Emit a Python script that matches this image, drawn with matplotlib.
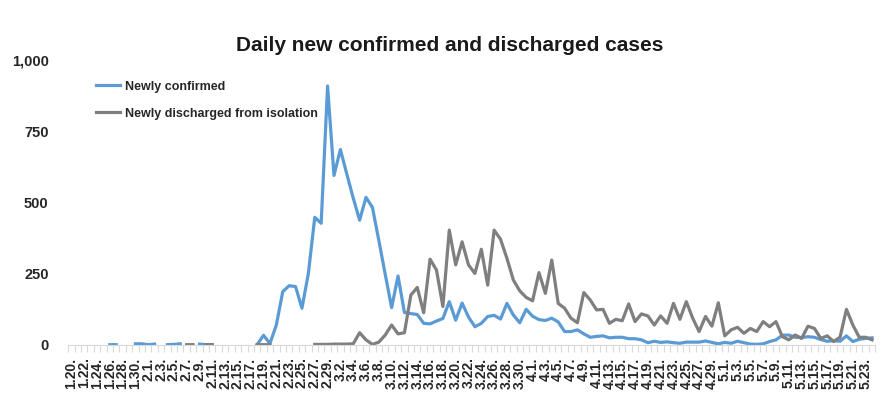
# Daily new confirmed and discharged cases (Korea, 1.20 ~ 5.24)
import numpy as np
import pandas as pd
import matplotlib
matplotlib.use("Agg")
import matplotlib.pyplot as plt

plt.rcParams['font.family'] = ['Liberation Sans', 'DejaVu Sans']

# categories: every day from 1.20 to 5.24
days = pd.date_range("2020-01-20", "2020-05-24", freq="D")
day_labels = [f"{d.month}.{d.day}." for d in days]

nan = np.nan
# newly confirmed (blank days are left as gaps, like in the original sheet)
confirmed = [
    nan, nan, nan, nan, nan, nan, 1, 1, nan, nan,          # 1.20 - 1.29
    4, 4, 1, 3, nan, 1, 2, 4, nan, nan,                    # 1.30 - 2.8
    3, 1, 1, nan, nan, nan, nan, nan, nan, 1,              # 2.9 - 2.18
    34, 5, 70, 187, 208, 205, 129, 251, 448, 427,          # 2.19 - 2.28
    909, 595, 686, 600, 516, 438, 518, 483, 367, 248,      # 2.29 - 3.9
    131, 242, 114, 110, 107, 76, 74, 84, 93, 152,          # 3.10 - 3.19
    87, 147, 98, 64, 76, 100, 104, 91, 146, 105,           # 3.20 - 3.29
    78, 125, 101, 89, 86, 94, 81, 47, 47, 53,              # 3.30 - 4.8
    39, 27, 30, 32, 25, 27, 27, 22, 22, 18,                # 4.9 - 4.18
    8, 13, 9, 11, 8, 6, 10, 10, 10, 14,                    # 4.19 - 4.28
    9, 4, 9, 6, 13, 8, 3, 2, 4, 12,                        # 4.29 - 5.8
    18, 34, 35, 27, 26, 29, 27, 19, 13, 15,                # 5.9 - 5.18
    13, 32, 12, 20, 23, 25,                                # 5.19 - 5.24
]
# newly discharged from isolation
discharged = [
    nan, nan, nan, nan, nan, nan, nan, nan, nan, nan,      # 1.20 - 1.29
    nan, nan, nan, nan, nan, nan, nan, nan, 1, 1,          # 1.30 - 2.8
    nan, 1, 1, nan, nan, nan, nan, nan, nan, 1,            # 2.9 - 2.18
    1, 1, nan, nan, nan, nan, nan, nan, 2, 2,              # 2.19 - 2.28
    2, 3, 3, 3, 4, 43, 18, 2, 10, 35,                      # 2.29 - 3.9
    70, 39, 43, 175, 202, 113, 301, 263, 135, 403,         # 3.10 - 3.19
    281, 362, 281, 251, 336, 210, 403, 371, 304, 228,      # 3.20 - 3.29
    190, 167, 155, 254, 181, 298, 146, 129, 94, 78,        # 3.30 - 4.8
    184, 158, 123, 125, 76, 90, 85, 144, 82, 109,          # 4.9 - 4.18
    102, 70, 102, 76, 146, 90, 152, 94, 47, 100,           # 4.19 - 4.28
    66, 148, 32, 53, 62, 41, 58, 47, 82, 64,               # 4.29 - 5.8
    82, 29, 18, 35, 23, 66, 58, 23, 32, 12,                # 5.9 - 5.18
    27, 125, 70, 27, 27, 18,                               # 5.19 - 5.24
]
y_ticks = [0, 250, 500, 750, 1000]
y_tick_labels = ["0", "250", "500", "750", "1,000"]

x = np.arange(len(day_labels))

fig = plt.figure(figsize=(8.85, 4.03), dpi=100)
ax = fig.add_axes([0.077, 0.144, 0.912, 0.707])

ax.plot(x, confirmed, color="#5B9BD5", lw=2.3, label="Newly confirmed")
ax.plot(x, discharged, color="#7F7F7F", lw=2.3, label="Newly discharged from isolation")

ax.set_xlim(-0.5, len(x) - 0.5)
ax.set_ylim(0, 1000)

# y axis: bold labels, no line
ax.set_yticks(y_ticks)
ax.set_yticklabels(y_tick_labels, fontsize=10.5, fontweight="bold", color="#262626")
ax.tick_params(axis="y", length=0, pad=14)

# x axis: label every 2nd day, small tick between every category
ax.set_xticks(x[::2])
ax.set_xticklabels(day_labels[::2], rotation=90, fontsize=10,
                   fontweight="bold", color="#262626", va="top", ha="center")
ax.set_xticks(np.arange(-0.5, len(x), 1), minor=True)
ax.tick_params(axis="x", which="major", length=0, pad=9)
ax.tick_params(axis="x", which="minor", length=5, color="#D9D9D9", width=0.8)

for side in ["top", "right", "left"]:
    ax.spines[side].set_visible(False)
ax.spines["bottom"].set_color("#D9D9D9")
ax.spines["bottom"].set_linewidth(0.8)

fig.text(0.508, 0.886, "Daily new confirmed and discharged cases",
         ha="center", va="center", fontsize=15, fontweight="bold", color="#1a1a1a")

leg = ax.legend(loc="upper left", bbox_to_anchor=(0.109, 0.8),
                bbox_transform=fig.transFigure, frameon=False,
                borderpad=0, borderaxespad=0, handlelength=1.85,
                handletextpad=0.4, labelspacing=1.2,
                prop={"size": 9, "weight": "bold"})
for t in leg.get_texts():
    t.set_color("#262626")

fig.savefig("out.png", dpi=100)
